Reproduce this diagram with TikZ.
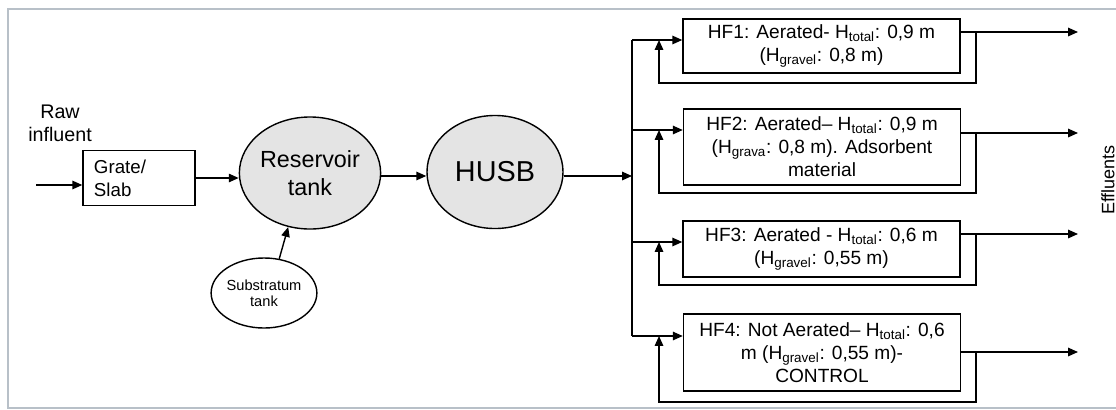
\documentclass[tikz,border=0pt]{standalone}
\usepackage{fontspec}
\setmainfont{Liberation Sans}
\usetikzlibrary{arrows.meta,shapes.geometric}
\definecolor{tankgray}{HTML}{E4E4E4}
\definecolor{framegray}{HTML}{B8C0C8}

\begin{document}
\begin{tikzpicture}[x=0.025cm, y=-0.025cm, line width=1pt,
        flow/.style={-{Triangle[length=7pt,width=6pt]}},
        tank/.style={ellipse, draw, fill=tankgray, inner sep=0pt, align=center},
        hfbox/.style={draw, minimum width=6.925cm, inner sep=0pt, align=center,
            font=\fontsize{13.6}{16.4}\selectfont}]
        \useasboundingbox (0, 0) rectangle (1116, 409);
        \draw[framegray, line width=1pt] (1116, 9) -- (8, 9) -- (8, 408) -- (1116, 408);

        \node[align=center, font=\fontsize{14}{16.4}\selectfont] (rawlbl) at (60, 123) {Raw\\influent};
        \node[draw, minimum height=1.375cm, text width=2.25cm, inner xsep=0.275cm, align=left,
            font=\fontsize{13.3}{16.4}\selectfont] (grate) at (139, 178) {Grate/\\Slab};
        \node[tank, minimum width=3.5cm, minimum height=2.8cm,
            font=\fontsize{16.6}{20}\selectfont] (res) at (310, 173) {Reservoir\\tank};
        \node[tank, minimum width=3.4cm, minimum height=2.825cm,
            font=\fontsize{20.5}{24}\selectfont] (husb) at (495, 172) {HUSB};
        \node[ellipse, draw, inner sep=0pt, minimum width=2.55cm, minimum height=1.75cm, align=center,
            font=\fontsize{10.4}{11.4}\selectfont] (sub) at (264, 293) {Substratum\\tank};

        \node[hfbox, minimum height=1.35cm] (hf1) at (821.5, 46)
            {HF1: Aerated- H\textsubscript{total}: 0,9 m\\(H\textsubscript{gravel}: 0,8 m)};
        \node[hfbox, minimum height=1.9cm] (hf2) at (822, 147)
            {HF2: Aerated-- H\textsubscript{total}: 0,9 m\\(H\textsubscript{grava}: 0,8 m). Adsorbent\\material};
        \node[hfbox, minimum height=1.4cm] (hf3) at (821.5, 249)
            {HF3: Aerated - H\textsubscript{total}: 0,6 m\\(H\textsubscript{gravel}: 0,55 m)};
        \node[hfbox, minimum height=1.925cm] (hf4) at (822, 352.5)
            {HF4: Not Aerated-- H\textsubscript{total}: 0,6\\m (H\textsubscript{gravel}: 0,55 m)-\\CONTROL};

        \node[rotate=90, font=\fontsize{12.8}{15}\selectfont] (eff) at (1108, 180) {Effluents};

        \coordinate (raw) at (36, 185);
        \coordinate (split) at (632, 176);
        \coordinate (ret) at (659, 0);
        \coordinate (br1) at (632, 40);
        \coordinate (br2) at (632, 130);
        \coordinate (br3) at (632, 242);
        \coordinate (br4) at (632, 336);
        \coordinate (out1) at (1078, 32);
        \coordinate (out2) at (1078, 133);
        \coordinate (out3) at (1078, 234);
        \coordinate (out4) at (1078, 352);
        \coordinate (rec1) at (976, 83);
        \coordinate (rec2) at (976, 193);
        \coordinate (rec3) at (976, 285);
        \coordinate (rec4) at (976, 402);

        \draw[flow] (raw) -- (raw -| grate.west);
        \draw[flow] (grate.east) -- (grate.east -| res.west);
        \draw[flow] (sub.66) -- (res.248);
        \draw[flow] (split -| res.east) -- (split -| husb.west);
        \draw[flow] (split -| husb.east) -- (split);
        \draw (br1) -- (br4);

        \draw[flow] (br1) -- (br1 -| hf1.west);
        \draw[flow] (br2) -- (br2 -| hf2.west);
        \draw[flow] (br3) -- (br3 -| hf3.west);
        \draw[flow] (br4) -- (br4 -| hf4.west);

        \draw[flow] (out1 -| hf1.east) -- (out1);
        \draw[flow] (out2 -| hf2.east) -- (out2);
        \draw[flow] (out3 -| hf3.east) -- (out3);
        \draw[flow] (out4 -| hf4.east) -- (out4);

        \draw[flow] (out1 -| rec1) -- (rec1) -- (rec1 -| ret) -- (br1 -| ret);
        \draw[flow] (out2 -| rec2) -- (rec2) -- (rec2 -| ret) -- (br2 -| ret);
        \draw[flow] (out3 -| rec3) -- (rec3) -- (rec3 -| ret) -- (br3 -| ret);
        \draw[flow] (out4 -| rec4) -- (rec4) -- (rec4 -| ret) -- (br4 -| ret);
    \end{tikzpicture}
\end{document}
